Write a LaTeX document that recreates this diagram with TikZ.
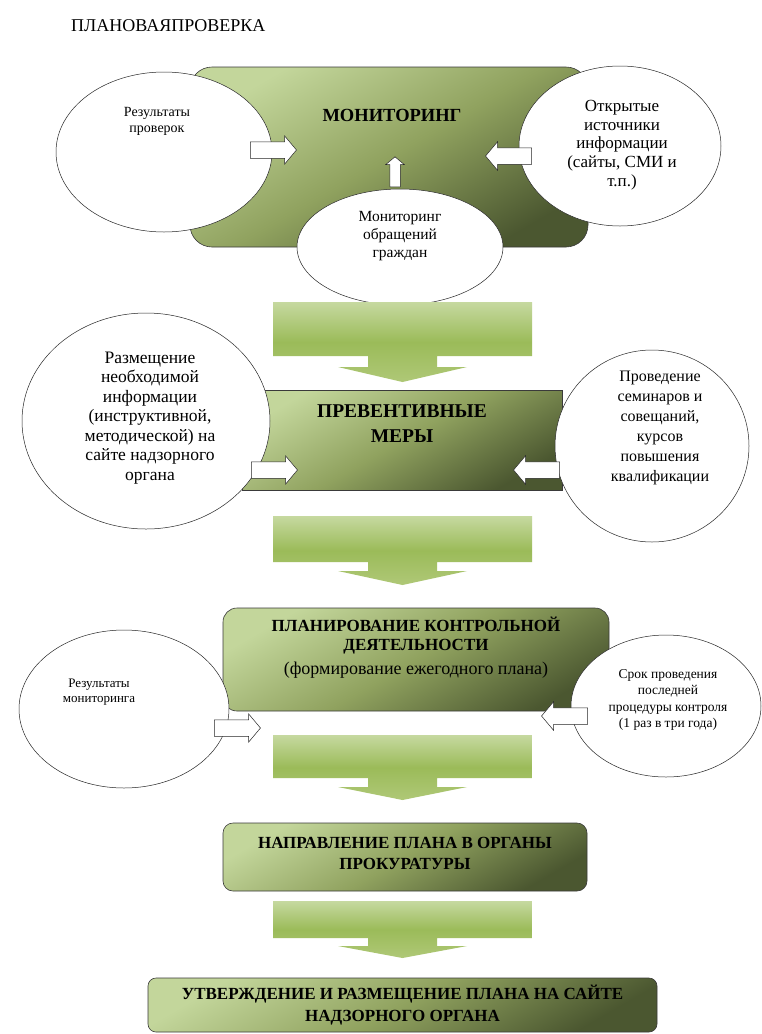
\documentclass[tikz,border=0pt]{standalone}
\usepackage{fontspec}
\setmainfont{Liberation Serif}
\usetikzlibrary{shapes.geometric,shapes.arrows}
\definecolor{bxA}{HTML}{C3D69B}
\definecolor{bxB}{HTML}{90A25F}
\definecolor{bxC}{HTML}{4B5730}
\definecolor{arA}{HTML}{C6D9A0}
\definecolor{arB}{HTML}{9BBB59}
\definecolor{arC}{HTML}{AFC877}
\definecolor{edge}{HTML}{3A3A3A}
\pgfdeclarehorizontalshading{boxsh}{100bp}{color(0bp)=(bxA); color(25bp)=(bxA); color(50bp)=(bxB); color(75bp)=(bxC); color(100bp)=(bxC)}
\pgfdeclareverticalshading{arsh}{100bp}{color(0bp)=(arC); color(25bp)=(arC); color(50bp)=(arB); color(75bp)=(arA); color(100bp)=(arA)}
\newcommand\bigarr[5]{%
  \path[shading=arsh] (273,#1) -- (532,#1) -- (532,#2) -- (437,#2) -- (437,#3)
    -- (467,#3) -- (402.5,#4) -- (338,#3) -- (368,#3) -- (368,#2) -- (273,#2) -- cycle;
  \coordinate (#5) at (402.5,#4);}
\tikzset{
  bx/.style={draw=edge, line width=0.6pt, shading=boxsh, shading angle=-60, inner sep=0pt},
  ell/.style={ellipse, draw=black!85, line width=0.5pt, fill=white, inner sep=0pt},
  txt/.style={align=center, inner sep=0pt},
  sarr/.style={single arrow, draw=black!85, fill=white, line width=0.5pt,
    minimum height=46pt, minimum width=0pt, inner xsep=0pt, inner ysep=8pt,
    single arrow head extend=6pt, single arrow tip angle=100},
  uarr/.style={sarr, minimum height=30pt, inner xsep=5pt, inner ysep=0pt,
    single arrow head extend=4pt}
}
\begin{document}
\begin{tikzpicture}[x=1pt,y=-1pt]
\useasboundingbox (0,0) rectangle (762,1034);
\fill[white] (0,0) rectangle (762,1034);

\node[anchor=west, inner sep=0pt, font=\fontsize{18}{20}\selectfont] (title) at (71,26) {ПЛАНОВАЯПРОВЕРКА};

% ---------- monitoring ----------
\node[bx, rounded corners=22pt, minimum width=398pt, minimum height=180pt] (mon) at (389,157) {};
\node[ell, minimum width=216pt, minimum height=160pt] (e1l) at (164,152) {};
\node[ell, minimum width=202pt, minimum height=160pt] (e1r) at (620,146) {};
\node[ell, minimum width=206pt, minimum height=116pt] (e1b) at (400,247) {};
\node[txt, font=\fontsize{18.5}{22}\selectfont\bfseries] (monT) at (392,115) {МОНИТОРИНГ};
\node[txt, font=\fontsize{14}{16}\selectfont] (t1l) at (157,121) {Результаты\\проверок};
\node[txt, font=\fontsize{17}{18.7}\selectfont] (t1r) at (622,145) {Открытые\\источники\\информации\\(сайты, СМИ и\\т.п.)};
\node[txt, font=\fontsize{15.5}{18}\selectfont] (t1b) at (400,236) {Мониторинг\\обращений\\граждан};
\node[sarr] (a1l) at (270,150) {};
\node[sarr, shape border rotate=180] (a1r) at (512,156) {};
\node[uarr, shape border rotate=90] (a1b) at (395,174) {};

\bigarr{302}{356}{367}{382}{g1}

% ---------- preventive ----------
\node[bx, minimum width=320pt, minimum height=100pt] (prev) at (402,440) {};
\node[ell, minimum width=248pt, minimum height=216pt] (e2l) at (146,421) {};
\node[ell, minimum width=194pt, minimum height=192pt] (e2r) at (652,446) {};
\node[txt, font=\fontsize{19.5}{25}\selectfont\bfseries] (prevT) at (402,424) {ПРЕВЕНТИВНЫЕ\\МЕРЫ};
\node[txt, font=\fontsize{17.5}{19.5}\selectfont] (t2l) at (150,418) {Размещение\\необходимой\\информации\\(инструктивной,\\методической) на\\сайте надзорного\\органа};
\node[txt, font=\fontsize{16}{20}\selectfont] (t2r) at (660,428) {Проведение\\семинаров и\\совещаний,\\курсов\\повышения\\квалификации};
\node[sarr] (a2l) at (271,470) {};
\node[sarr, shape border rotate=180] (a2r) at (540,470) {};

\bigarr{516}{562}{571}{585}{g2}

% ---------- planning ----------
\node[bx, rounded corners=14pt, minimum width=386pt, minimum height=103pt] (plan) at (416,659.5) {};
\node[ell, minimum width=210pt, minimum height=158pt] (e3l) at (124,709) {};
\node[ell, minimum width=190pt, minimum height=142pt] (e3r) at (666,706) {};
\node[txt, anchor=north, font=\fontsize{17}{19}\selectfont\bfseries] (planT) at (416,617) {ПЛАНИРОВАНИЕ КОНТРОЛЬНОЙ\\ДЕЯТЕЛЬНОСТИ\\[5pt]{\fontsize{18}{19}\mdseries\selectfont (формирование ежегодного плана)}};
\node[txt, font=\fontsize{13}{15.5}\selectfont] (t3l) at (99,692) {Результаты\\мониторинга};
\node[txt, font=\fontsize{13.5}{16.5}\selectfont] (t3r) at (668,700) {Срок проведения\\последней\\процедуры контроля\\(1 раз в три года)};
\node[sarr] (a3l) at (234,728) {};
\node[sarr, shape border rotate=180] (a3r) at (568,716) {};

\bigarr{735}{778}{787}{800}{g3}

% ---------- send ----------
\node[bx, rounded corners=10pt, minimum width=364pt, minimum height=68pt] (send) at (405,857) {};
\node[txt, font=\fontsize{17}{21}\selectfont\bfseries] (sendT) at (405,853) {НАПРАВЛЕНИЕ ПЛАНА В ОРГАНЫ\\ПРОКУРАТУРЫ};

\bigarr{901}{938}{946}{958}{g4}

% ---------- approve ----------
\node[bx, rounded corners=8pt, minimum width=509pt, minimum height=54pt] (appr) at (402.5,1005) {};
\node[txt, font=\fontsize{17}{22}\selectfont\bfseries] (apprT) at (402.5,1005) {УТВЕРЖДЕНИЕ И РАЗМЕЩЕНИЕ ПЛАНА НА САЙТЕ\\НАДЗОРНОГО ОРГАНА};
\end{tikzpicture}
\end{document}
